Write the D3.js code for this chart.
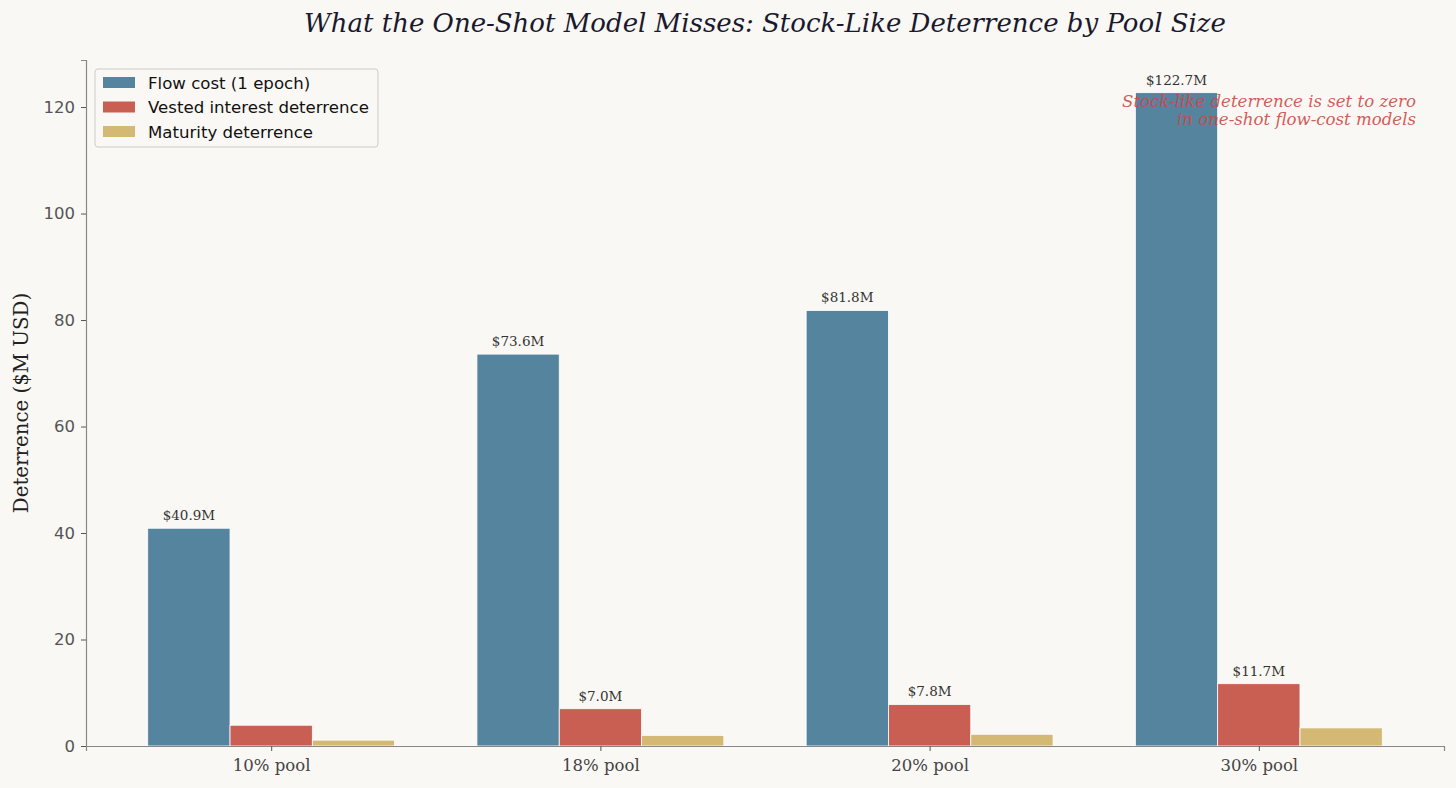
<!DOCTYPE html>
<html>
<head>
<meta charset="utf-8">
<script src="https://cdn.jsdelivr.net/npm/d3@7"></script>
<style>
  body { margin: 0; background: #faf8f4; }
  svg { display: block; }
</style>
</head>
<body>
<div id="chart"></div>
<script>
var width  = 1456;
var height = 788;

var pools    = ["10% pool", "18% pool", "20% pool", "30% pool"];
var series   = ["Flow cost (1 epoch)", "Vested interest deterrence", "Maturity deterrence"];
var flow     = [40.9, 73.6, 81.8, 122.7];
var vested   = [3.9, 7.0, 7.8, 11.7];
var maturity = [1.1, 2.0, 2.2, 3.4];
var yTicks   = [0, 20, 40, 60, 80, 100, 120];
var colors   = ["#55849f", "#c95f52", "#d4b975"];

var values = [flow, vested, maturity];
var margin = {left: 86, right: 12, top: 60, bottom: 42};

var svg = d3.select("#chart").append("svg")
  .attr("width", width)
  .attr("height", height);

svg.append("rect").attr("width", width).attr("height", height).attr("fill", "#faf8f4");

// matplotlib-like x limits: centers 0..3, bar width 0.25, 5% margins
var x = d3.scaleLinear()
  .domain([-0.5625, 3.5625])
  .range([margin.left, width - margin.right]);

var y = d3.scaleLinear()
  .domain([0, 122.7 * 1.05])
  .range([height - margin.bottom, margin.top]);

var bw = 0.25;

values.forEach(function(vals, s) {
  svg.selectAll(".bar" + s)
    .data(vals)
    .enter().append("rect")
    .attr("class", "bar" + s)
    .attr("x", function(d, i) { return x(i + (s - 1) * bw - bw / 2); })
    .attr("width", x(bw) - x(0))
    .attr("y", function(d) { return y(d); })
    .attr("height", function(d) { return y(0) - y(d); })
    .style("fill", colors[s])
    .style("stroke", "#ffffff")
    .style("stroke-width", 0.8);
});

// value labels (flow and larger vested bars)
[0, 1].forEach(function(s) {
  svg.selectAll(".lab" + s)
    .data(values[s].map(function(d, i) { return {v: d, i: i}; })
      .filter(function(d) { return d.v >= 5; }))
    .enter().append("text")
    .attr("x", function(d) { return x(d.i + (s - 1) * bw); })
    .attr("y", function(d) { return y(d.v) - 8; })
    .attr("text-anchor", "middle")
    .style("font-family", "DejaVu Serif")
    .style("font-size", "13.5px")
    .style("fill", "#333333")
    .text(function(d) { return "$" + d.v.toFixed(1) + "M"; });
});

// axes
var yAxis = svg.append("g")
  .attr("transform", "translate(" + margin.left + ",0)")
  .call(d3.axisLeft(y).tickValues(yTicks).tickSize(5).tickPadding(6));
yAxis.selectAll("text")
  .style("font-family", "DejaVu Sans")
  .style("font-size", "16.5px")
  .style("fill", "#555555");

var xAxis = svg.append("g")
  .attr("transform", "translate(0," + y(0) + ")")
  .call(d3.axisBottom(x).tickValues([0, 1, 2, 3]).tickFormat(function(d) { return pools[d]; })
    .tickSize(5).tickPadding(8));
xAxis.selectAll("text")
  .style("font-family", "DejaVu Serif")
  .style("font-size", "16.5px")
  .style("fill", "#444444");

svg.selectAll(".domain").attr("stroke", "#888888").attr("stroke-width", 1.2);
svg.selectAll(".tick line").attr("stroke", "#555555");

svg.append("text")
  .attr("transform", "translate(28," + (y(0) + y(y.domain()[1])) / 2 + ") rotate(-90)")
  .attr("text-anchor", "middle")
  .style("font-family", "DejaVu Serif")
  .style("font-size", "19.8px")
  .style("fill", "#222222")
  .text("Deterrence ($M USD)");

// title
svg.append("text")
  .attr("x", (x.range()[0] + x.range()[1]) / 2)
  .attr("y", 32)
  .attr("text-anchor", "middle")
  .style("font-family", "DejaVu Serif")
  .style("font-style", "italic")
  .style("font-size", "26px")
  .style("fill", "#1a1a2e")
  .text("What the One-Shot Model Misses: Stock-Like Deterrence by Pool Size");

// annotation
var note = svg.append("text")
  .attr("text-anchor", "end")
  .style("font-family", "DejaVu Serif")
  .style("font-style", "italic")
  .style("font-size", "16.6px")
  .style("fill", "#c94a44")
  .style("fill-opacity", 0.9);
note.append("tspan").attr("x", 1416).attr("y", 107).text("Stock-like deterrence is set to zero");
note.append("tspan").attr("x", 1416).attr("y", 125).text("in one-shot flow-cost models");

// legend
var lg = svg.append("g").attr("transform", "translate(95,69)");
lg.append("rect")
  .attr("width", 283).attr("height", 78).attr("rx", 3)
  .style("fill", "#faf8f4").style("stroke", "#cccccc").style("stroke-width", 1);
series.forEach(function(name, i) {
  lg.append("rect")
    .attr("x", 8).attr("y", 8 + i * 24.5)
    .attr("width", 32).attr("height", 11)
    .style("fill", colors[i]);
  lg.append("text")
    .attr("x", 53).attr("y", 19.5 + i * 24.5)
    .style("font-family", "DejaVu Sans")
    .style("font-size", "16.6px")
    .style("fill", "#111111")
    .text(name);
});
</script>
</body>
</html>
